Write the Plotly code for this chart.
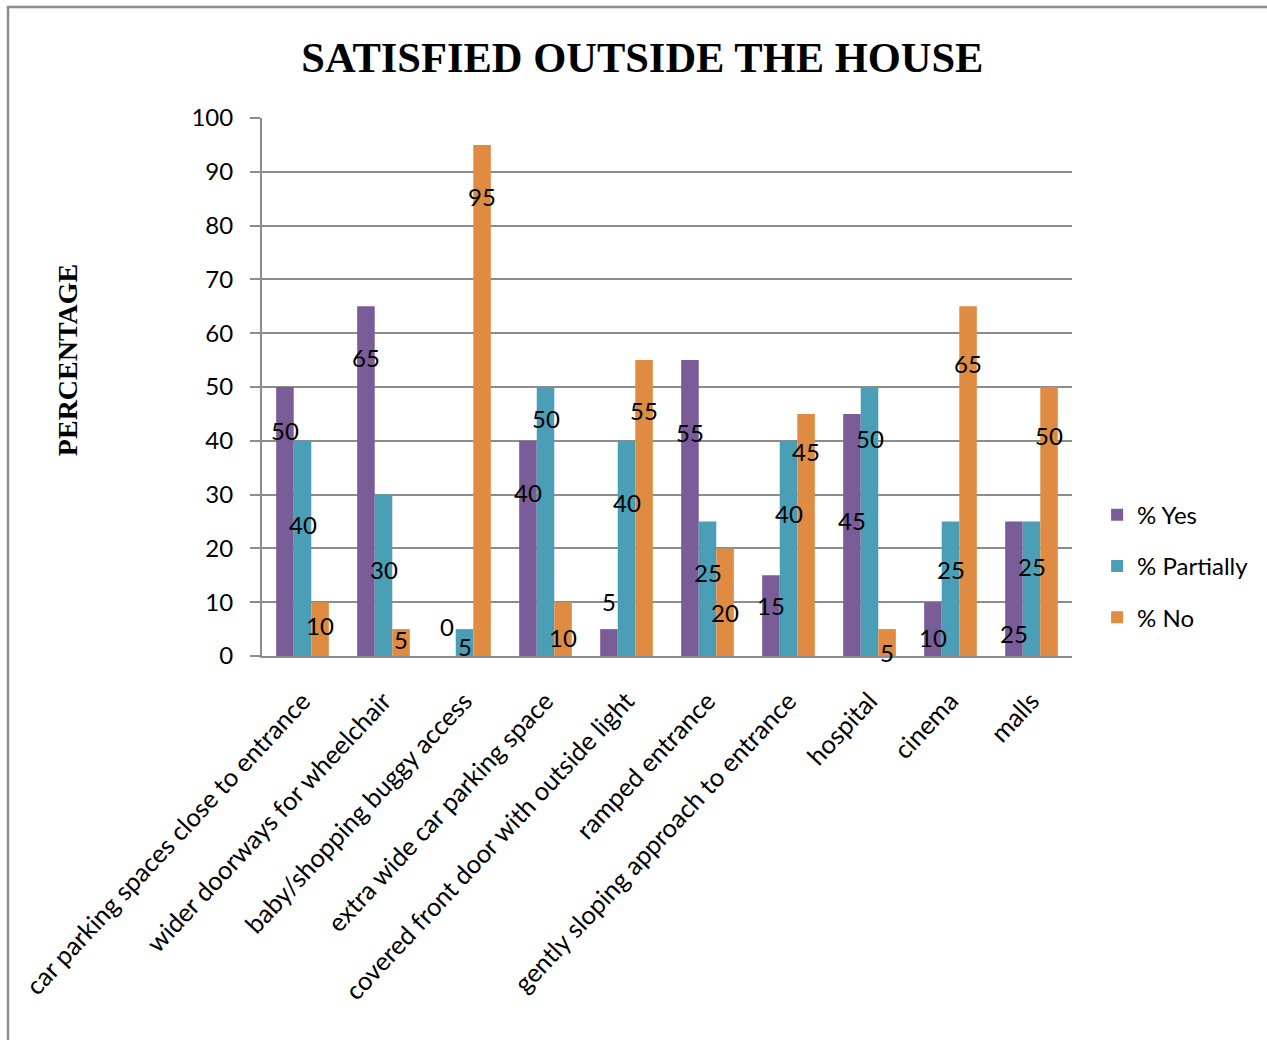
import plotly.graph_objects as go

# Survey categories and responses (percent)
categories = [
    "car parking spaces close to entrance",
    "wider doorways for wheelchair",
    "baby/shopping buggy access",
    "extra wide car parking space",
    "covered front door with outside light",
    "ramped entrance",
    "gently sloping approach to entrance",
    "hospital",
    "cinema",
    "malls",
]
series_names = ["% Yes", "% Partially", "% No"]
yes_values = [50, 65, 0, 40, 5, 55, 15, 45, 10, 25]
partially_values = [40, 30, 5, 50, 40, 25, 40, 50, 25, 25]
no_values = [10, 5, 95, 10, 55, 20, 45, 5, 65, 50]

# Heights (in axis units) at which each value label sits
yes_label_height = [42, 55.4, 5.4, 30.3, 10.2, 41.6, 9.3, 25.1, 3.5, 4.1]
partially_label_height = [24.5, 16, 1.7, 44.2, 28.6, 15.6, 26.4, 40.5, 16, 16.7]
no_label_height = [5.6, 3, 85.5, 3.5, 45.7, 8, 38.1, 0.7, 54.3, 40.9]

colors = ["#7a5c98", "#4a9fb6", "#df8b41"]
label_font = "Lato, 'Open Sans', sans-serif"
serif_font = "'Liberation Serif', 'Times New Roman', serif"
text_size = 24

all_values = [yes_values, partially_values, no_values]
all_label_heights = [yes_label_height, partially_label_height, no_label_height]

bargap = 0.35
bar_w = (1 - bargap) / 3
x_idx = list(range(len(categories)))

fig = go.Figure()
for k, (name, vals) in enumerate(zip(series_names, all_values)):
    fig.add_trace(go.Bar(
        x=x_idx, y=vals, name=name,
        marker=dict(color=colors[k], line=dict(width=0)),
        legendgroup=name,
    ))

annotations = []
for k, (vals, heights) in enumerate(zip(all_values, all_label_heights)):
    for i, (v, h) in enumerate(zip(vals, heights)):
        annotations.append(dict(
            x=i + (k - 1) * bar_w, y=h, xref="x", yref="y",
            text=str(v), showarrow=False,
            font=dict(family=label_font, size=text_size, color="#000"),
            xanchor="center", yanchor="middle",
        ))

# Y axis title
annotations.append(dict(
    x=-0.2407, y=0.55, xref="paper", yref="paper",
    text="<b>PERCENTAGE</b>", showarrow=False, textangle=-90,
    font=dict(family=serif_font, size=28, color="#000"),
    xanchor="center", yanchor="middle",
))

fig.update_layout(
    width=1267, height=1040,
    margin=dict(l=262, r=195, t=118, b=384),
    paper_bgcolor="white", plot_bgcolor="white",
    barmode="group", bargap=bargap, bargroupgap=0,
    title=dict(
        text="<b>SATISFIED OUTSIDE THE HOUSE</b>",
        x=0.507, y=0.945, xref="container", yref="container",
        xanchor="center", yanchor="middle",
        font=dict(family=serif_font, size=42.5, color="#000"),
    ),
    xaxis=dict(
        range=[-0.5, len(categories) - 0.5],
        tickmode="array", tickvals=x_idx, ticktext=categories,
        tickangle=-47, showgrid=False, zeroline=False,
        showline=True, linecolor="#8c8c8c", linewidth=2,
        ticks="", ticklabelstandoff=18,
        tickfont=dict(family=label_font, size=25.5, color="#000"),
    ),
    yaxis=dict(
        range=[0, 100], dtick=10, tick0=0,
        showgrid=True, gridcolor="#8c8c8c", gridwidth=1.5,
        zeroline=False, showline=True, linecolor="#8c8c8c", linewidth=2,
        ticks="outside", ticklen=10, tickcolor="#8c8c8c", tickwidth=1.5,
        ticklabelstandoff=12,
        tickfont=dict(family=label_font, size=text_size, color="#000"),
    ),
    legend=dict(
        x=1.031, y=0.167, xanchor="left", yanchor="middle",
        font=dict(family=label_font, size=text_size, color="#000"),
        tracegroupgap=17, bgcolor="rgba(0,0,0,0)",
    ),
    annotations=annotations,
    shapes=[dict(
        type="rect", xref="paper", yref="paper",
        x0=(8 - 262) / 810, x1=(1300 - 262) / 810,
        y0=(656 - 1080) / 538, y1=(656 - 7) / 538,
        line=dict(color="#8c8c8c", width=2.5), fillcolor="rgba(0,0,0,0)",
        layer="below",
    )],
)

fig.write_html("out.html")
